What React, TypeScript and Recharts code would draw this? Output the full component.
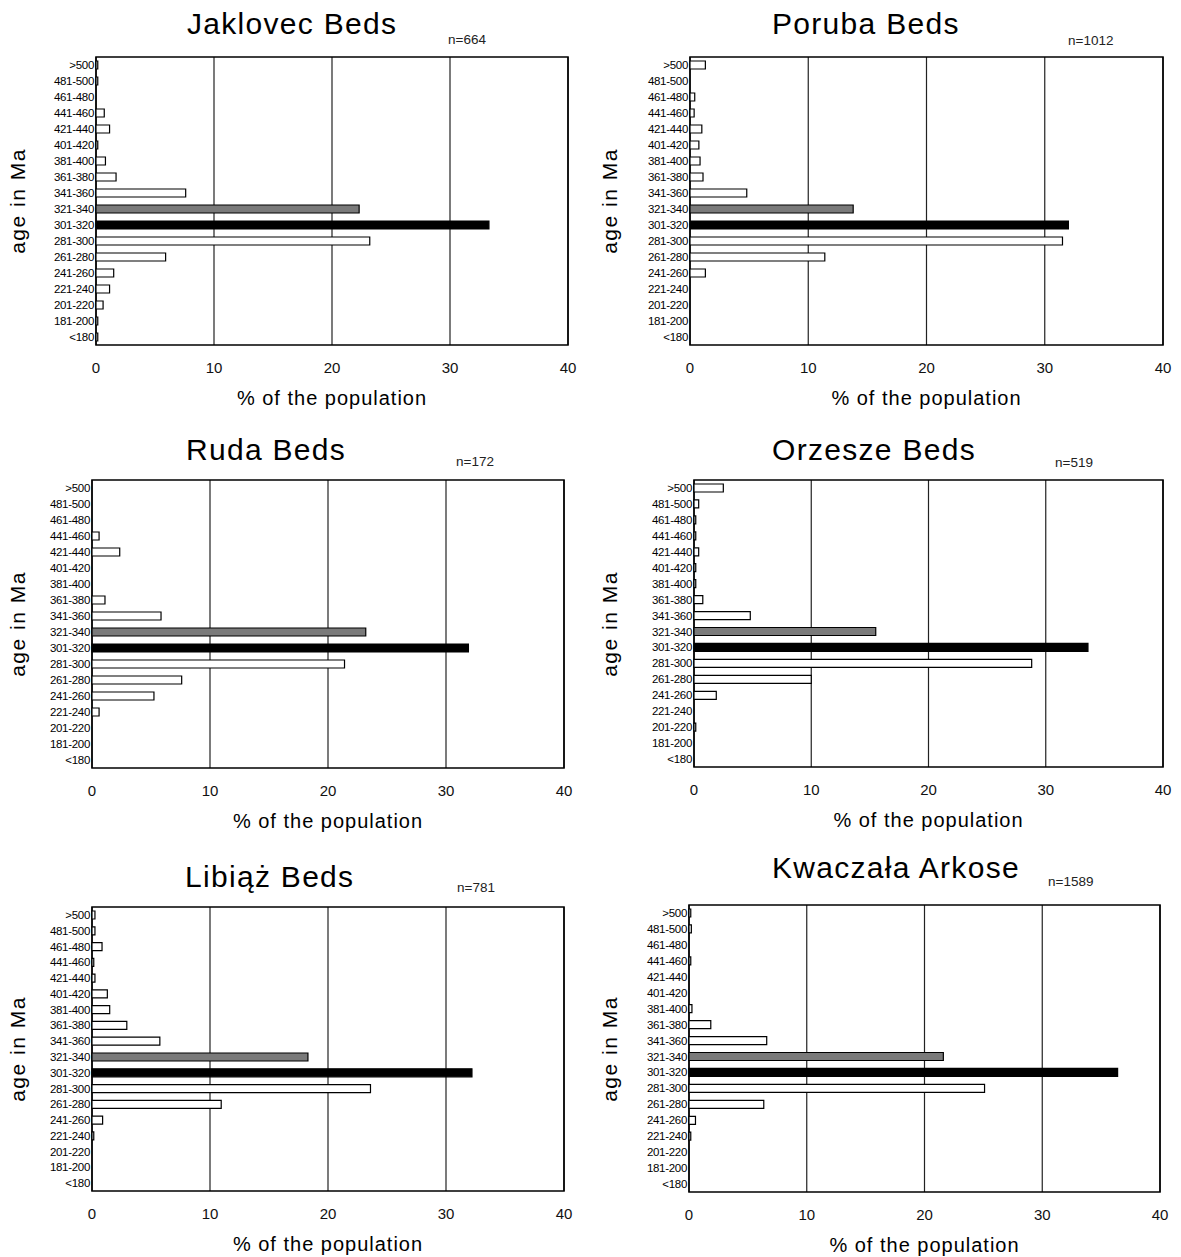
import { Bar, BarChart, CartesianGrid, Cell, ReferenceArea, XAxis, YAxis } from "recharts";

// age bins, top to bottom
const ageBins = [
  ">500", "481-500", "461-480", "441-460", "421-440", "401-420", "381-400",
  "361-380", "341-360", "321-340", "301-320", "281-300", "261-280", "241-260",
  "221-240", "201-220", "181-200", "<180",
];

// % of the population per bin
const jaklovec = [0.15, 0.15, 0, 0.7, 1.15, 0.15, 0.8, 1.7, 7.6, 22.3, 33.3, 23.2, 5.9, 1.5, 1.15, 0.6, 0.15, 0.15];
const poruba = [1.3, 0, 0.4, 0.35, 1.0, 0.75, 0.85, 1.1, 4.8, 13.8, 32.0, 31.5, 11.4, 1.3, 0, 0, 0, 0];
const ruda = [0, 0, 0, 0.6, 2.35, 0, 0, 1.1, 5.85, 23.2, 31.9, 21.4, 7.6, 5.25, 0.6, 0, 0, 0];
const orzesze = [2.5, 0.4, 0.15, 0.15, 0.4, 0.15, 0.15, 0.75, 4.8, 15.5, 33.6, 28.8, 10.0, 1.9, 0, 0.15, 0, 0];
const libiaz = [0.25, 0.25, 0.85, 0.15, 0.25, 1.3, 1.5, 2.95, 5.75, 18.3, 32.2, 23.6, 10.95, 0.9, 0.15, 0, 0, 0];
const kwaczala = [0.15, 0.2, 0, 0.15, 0, 0, 0.25, 1.85, 6.6, 21.6, 36.4, 25.1, 6.35, 0.55, 0.15, 0, 0, 0];

const xTicks = [0, 10, 20, 30, 40];

const FONT = "'Liberation Sans', Arial, sans-serif";

const panels = [
  { title: "Jaklovec Beds", n: "n=664", values: jaklovec, x0: 96, x1: 568, y0: 57, y1: 345, tx: 187, ty: 24, nx: 448, ny: 40, yl: 18 },
  { title: "Poruba Beds", n: "n=1012", values: poruba, x0: 690, x1: 1163, y0: 57, y1: 345, tx: 772, ty: 24, nx: 1068, ny: 41, yl: 610 },
  { title: "Ruda Beds", n: "n=172", values: ruda, x0: 92, x1: 564, y0: 480, y1: 768, tx: 186, ty: 450, nx: 456, ny: 462, yl: 18 },
  { title: "Orzesze Beds", n: "n=519", values: orzesze, x0: 694, x1: 1163, y0: 480, y1: 767, tx: 772, ty: 450, nx: 1055, ny: 463, yl: 610 },
  { title: "Libiąż Beds", n: "n=781", values: libiaz, x0: 92, x1: 564, y0: 907, y1: 1191, tx: 185, ty: 877, nx: 457, ny: 888, yl: 18 },
  { title: "Kwaczała Arkose", n: "n=1589", values: kwaczala, x0: 689, x1: 1160, y0: 905, y1: 1192, tx: 772, ty: 868, nx: 1048, ny: 882, yl: 610 },
];

function barFill(bin: string) {
  if (bin === "301-320") return "#000";
  if (bin === "321-340") return "#7a7a7a";
  return "#fff";
}

function Panel({ p }: { p: (typeof panels)[number] }) {
  const data = ageBins.map((bin, i) => ({ bin, value: p.values[i] }));
  const plotW = p.x1 - p.x0;
  const plotH = p.y1 - p.y0;
  const left = p.x0 - 100;
  const top = p.y0 - 10;
  return (
    <>
      <div style={{ position: "absolute", left: p.tx, top: p.ty - 16, fontSize: 30, letterSpacing: 1.3, lineHeight: "32px", whiteSpace: "nowrap" }}>
        {p.title}
      </div>
      <div style={{ position: "absolute", left: p.nx, top: p.ny - 7, fontSize: 13.5, lineHeight: "14px", color: "#222", whiteSpace: "nowrap" }}>
        {p.n}
      </div>
      <div
        style={{
          position: "absolute",
          left: p.yl,
          top: (p.y0 + p.y1) / 2,
          transform: "translate(-50%, -50%) rotate(-90deg)",
          fontSize: 21,
          letterSpacing: 1.5,
          whiteSpace: "nowrap",
        }}
      >
        age in Ma
      </div>
      <div style={{ position: "absolute", left, top }}>
        <BarChart
          width={plotW + 120}
          height={plotH + 80}
          data={data}
          layout="vertical"
          margin={{ top: 10, right: 20, bottom: 0, left: 0 }}
        >
          <CartesianGrid horizontal={false} stroke="#222" strokeWidth={1.2} />
          <XAxis
            type="number"
            domain={[0, 40]}
            ticks={xTicks}
            height={70}
            axisLine={false}
            tickLine={false}
            tickSize={0}
            tickMargin={17}
            tick={{ fill: "#111", fontSize: 15, fontFamily: FONT }}
            label={{ value: "% of the population", position: "insideBottom", offset: 10, fill: "#000", fontSize: 20, letterSpacing: 1, fontFamily: FONT }}
          />
          <YAxis
            type="category"
            dataKey="bin"
            width={100}
            interval={0}
            axisLine={false}
            tickLine={false}
            tickSize={0}
            tickMargin={2}
            tick={{ fill: "#000", fontSize: 11.5, letterSpacing: -0.3, fontFamily: FONT }}
          />
          <Bar dataKey="value" barSize={8} stroke="#000" strokeWidth={1.2} isAnimationActive={false}>
            {data.map((d) => (
              <Cell key={d.bin} fill={barFill(d.bin)} />
            ))}
          </Bar>
          <ReferenceArea x1={0} x2={40} fill="none" stroke="#000" strokeWidth={1.6} />
        </BarChart>
      </div>
    </>
  );
}

export default function App() {
  return (
    <div
      style={{
        position: "absolute",
        left: 0,
        top: 0,
        width: 1181,
        height: 1257,
        background: "#fff",
        fontFamily: FONT,
        color: "#000",
      }}
    >
      {panels.map((p) => (
        <Panel key={p.title} p={p} />
      ))}
    </div>
  );
}
